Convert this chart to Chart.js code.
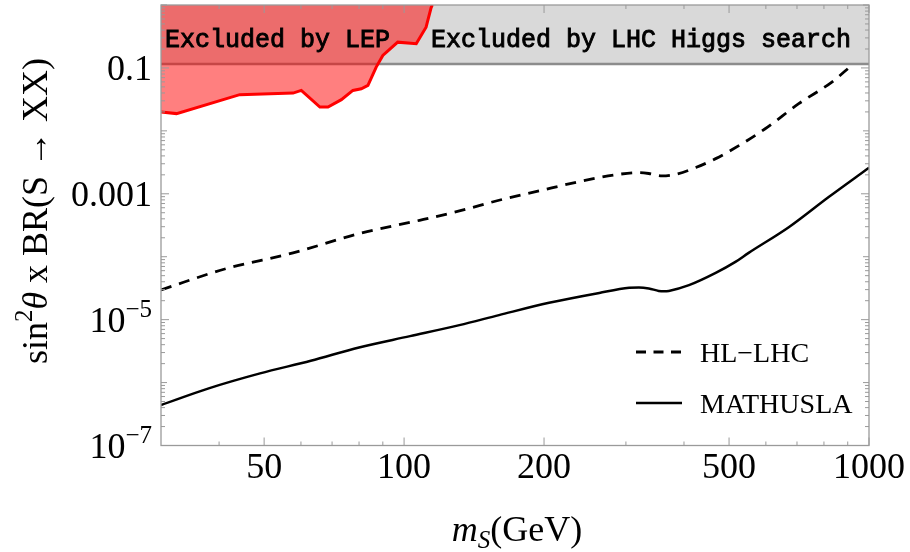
<!DOCTYPE html>
<html>
<head>
<meta charset="utf-8">
<script src="https://cdn.jsdelivr.net/npm/chart.js@4.4.1/dist/chart.umd.min.js"></script>
<style>
  html, body { margin: 0; padding: 0; background: #fff; }
  #wrap { width: 910px; height: 552px; }
</style>
</head>
<body>
<div id="wrap"><canvas id="chart" width="910" height="552"></canvas></div>
<script>
// Values (log-log: m_S in GeV vs sin^2(theta) x BR).

// HL-LHC projection (dashed)
const massHL = [30, 41.5, 57.7, 80, 108, 131.5, 160, 195, 238, 290, 320, 336, 359, 384, 424, 468, 508, 598, 706, 832, 918];
const hlLhc = [2.97e-5, 6.5e-5, 1.15e-4, 2.33e-4, 3.79e-4, 5.33e-4, 7.89e-4, 1.11e-3, 1.56e-3, 2.04e-3, 2.17e-3, 2.10e-3, 1.92e-3, 2.04e-3, 2.61e-3, 3.62e-3, 5.04e-3, 1.08e-2, 2.7e-2, 5.96e-2, 0.11];

// MATHUSLA projection (solid)
const massMA = [30, 38, 49, 63, 80, 103, 131.5, 160, 205, 263, 305, 320, 336, 353, 362, 371, 410, 468, 516, 551, 672, 819, 1000];
const mathusla = [4.4e-7, 8.1e-7, 1.4e-6, 2.22e-6, 3.62e-6, 5.47e-6, 8.18e-6, 1.18e-5, 1.85e-5, 2.66e-5, 3.2e-5, 3.25e-5, 3.13e-5, 2.86e-5, 2.82e-5, 2.86e-5, 3.53e-5, 5.53e-5, 8.27e-5, 1.15e-4, 2.94e-4, 8.89e-4, 2.6e-3];

// LEP exclusion boundary (region above is excluded)
const massLEP = [30, 32.4, 44.3, 57.7, 60.1, 65.9, 68.6, 73.3, 77.6, 80.9, 83.6, 87.1, 90, 96.9, 106.2, 111.5, 114.3, 115];
const lepLimit = [0.0199, 0.0188, 0.0376, 0.0398, 0.0439, 0.0239, 0.0239, 0.0313, 0.0439, 0.0467, 0.0527, 0.103, 0.158, 0.257, 0.242, 0.444, 0.903, 1];

// LHC Higgs search exclusion band
const massLHC = [30, 1000];
const lhcLimit = [0.115, 0.115];

// axes
const xTickValues = [50, 100, 200, 500, 1000];
const xMinorTicks = [40, 60, 70, 80, 90, 300, 400, 600, 700, 800, 900];
const yTickValues = [1e-7, 1e-5, 1e-3, 0.1];
const yTickLabels = [['10', '\u22127'], ['10', '\u22125'], ['0.001'], ['0.1']];

const seriesNames = ['HL\u2212LHC', 'MATHUSLA'];

const SERIF = '"Liberation Serif", "Times New Roman", serif';
const MONO = '"Liberation Mono", "Courier New", monospace';
const FRAME = '#9a9a9a';

function toPoints(xs, ys) {
    return xs.map(function(x, i) { return { x: x, y: ys[i] }; });
}

// draws runs of text with different fonts / baseline shifts in sequence
function drawRuns(ctx, runs, x, y, align) {
    let total = 0;
    runs.forEach(function(r) { ctx.font = r.font; r.w = ctx.measureText(r.text).width; total += r.w; });
    let cx = align === 'center' ? x - total / 2 : (align === 'right' ? x - total : x);
    ctx.textAlign = 'left';
    ctx.textBaseline = 'alphabetic';
    runs.forEach(function(r) {
        ctx.font = r.font;
        ctx.fillText(r.text, cx, y + (r.dy || 0));
        cx += r.w;
    });
}

const decorPlugin = {
    id: 'decor',
    afterDatasetsDraw(chart) {
        const ctx = chart.ctx;
        const a = chart.chartArea;
        const xs = chart.scales.x;
        const ys = chart.scales.y;
        ctx.save();
        ctx.fillStyle = '#000';

        // band captions (regular mono, slightly thickened)
        ctx.font = '25px ' + MONO;
        ctx.textAlign = 'left';
        ctx.textBaseline = 'alphabetic';
        ctx.strokeStyle = '#000';
        ctx.lineWidth = 0.9;
        [['Excluded by LEP', a.left + 4], ['Excluded by LHC Higgs search', 431]].forEach(function(t) {
            ctx.fillText(t[0], t[1], 47);
            ctx.strokeText(t[0], t[1], 47);
        });

        // frame
        ctx.strokeStyle = FRAME;
        ctx.lineWidth = 1.3;
        ctx.strokeRect(a.left, a.top, a.right - a.left, a.bottom - a.top);

        // inward ticks on all four sides
        function xTick(v, len) {
            const px = xs.getPixelForValue(v);
            ctx.beginPath();
            ctx.moveTo(px, a.bottom); ctx.lineTo(px, a.bottom - len);
            ctx.moveTo(px, a.top); ctx.lineTo(px, a.top + len);
            ctx.stroke();
        }
        function yTick(v, len) {
            const py = ys.getPixelForValue(v);
            ctx.beginPath();
            ctx.moveTo(a.left, py); ctx.lineTo(a.left + len, py);
            ctx.moveTo(a.right, py); ctx.lineTo(a.right - len, py);
            ctx.stroke();
        }
        ctx.lineWidth = 1;
        xTickValues.forEach(function(v) { xTick(v, 8); });
        xMinorTicks.forEach(function(v) { xTick(v, 4); });
        for (let e = -7; e <= 0; e++) {
            const d = Math.pow(10, e);
            const labelled = yTickValues.some(function(t) { return Math.abs(t - d) < d * 1e-6; });
            yTick(d, labelled ? 8 : 6);
            if (e < 0) {
                for (let k = 2; k <= 9; k++) yTick(k * d, 4);
            }
        }

        // y tick labels (with superscripts)
        ctx.fillStyle = '#000';
        yTickValues.forEach(function(v, i) {
            const py = ys.getPixelForValue(v);
            const lab = yTickLabels[i];
            const runs = [{ text: lab[0], font: '36px ' + SERIF }];
            if (lab.length > 1) runs.push({ text: lab[1], font: '25px ' + SERIF, dy: -15 });
            drawRuns(ctx, runs, 152, py + 12, 'right');
        });

        // x title: m_S(GeV)
        drawRuns(ctx, [
            { text: 'm', font: 'italic 36px ' + SERIF },
            { text: 'S', font: 'italic 25px ' + SERIF, dy: 7 },
            { text: '(GeV)', font: '36px ' + SERIF }
        ], 517, 541, 'center');

        // y title: sin^2(theta) x BR(S -> XX)
        ctx.save();
        ctx.translate(47, 211);
        ctx.rotate(-Math.PI / 2);
        drawRuns(ctx, [
            { text: 'sin', font: '36px ' + SERIF },
            { text: '2', font: '25px ' + SERIF, dy: -15 },
            { text: '\u03b8', font: 'italic 36px ' + SERIF },
            { text: ' x BR(S \u2192 XX)', font: '36px ' + SERIF }
        ], 0, 0, 'center');
        ctx.restore();

        // legend
        const legendY = [352, 403];
        ctx.strokeStyle = '#000';
        legendY.forEach(function(ly, i) {
            ctx.beginPath();
            ctx.lineWidth = i === 0 ? 2.8 : 2.5;
            ctx.setLineDash(i === 0 ? [10, 7.5] : []);
            ctx.moveTo(636, ly); ctx.lineTo(682, ly);
            ctx.stroke();
            ctx.setLineDash([]);
            ctx.font = '28px ' + SERIF;
            ctx.textAlign = 'left';
            ctx.textBaseline = 'alphabetic';
            ctx.fillText(seriesNames[i], 700, ly + 10);
        });

        ctx.restore();
    }
};

new Chart(document.getElementById('chart'), {
    type: 'line',
    data: {
        datasets: [
            {
                label: seriesNames[0],
                data: toPoints(massHL, hlLhc),
                borderColor: '#000',
                borderWidth: 2.8,
                borderDash: [11, 8],
                pointRadius: 0,
                fill: false,
                cubicInterpolationMode: 'monotone',
                order: 0
            },
            {
                label: seriesNames[1],
                data: toPoints(massMA, mathusla),
                borderColor: '#000',
                borderWidth: 2.5,
                pointRadius: 0,
                fill: false,
                cubicInterpolationMode: 'monotone',
                order: 0
            },
            {
                label: 'LEP',
                data: toPoints(massLEP, lepLimit),
                borderColor: '#ff0000',
                borderWidth: 3,
                backgroundColor: 'rgba(255, 0, 0, 0.5)',
                fill: 'end',
                tension: 0,
                pointRadius: 0,
                order: 1
            },
            {
                label: 'LHC',
                data: toPoints(massLHC, lhcLimit),
                borderColor: '#8c8c8c',
                borderWidth: 2.5,
                backgroundColor: '#d9d9d9',
                fill: 'end',
                pointRadius: 0,
                order: 2
            }
        ]
    },
    options: {
        responsive: false,
        animation: false,
        devicePixelRatio: 1,
        layout: { padding: { top: 5, right: 41, left: 0, bottom: 0 } },
        plugins: {
            legend: { display: false },
            tooltip: { enabled: false }
        },
        scales: {
            x: {
                type: 'logarithmic',
                min: 30,
                max: 1000,
                grid: { display: false, drawTicks: false },
                border: { display: false },
                afterBuildTicks: function(s) { s.ticks = xTickValues.map(function(v) { return { value: v }; }); },
                afterFit: function(s) { s.height = 106.5; },
                ticks: {
                    autoSkip: false,
                    maxRotation: 0,
                    padding: 1,
                    color: '#000',
                    font: { family: SERIF, size: 36 },
                    callback: function(v) { return String(v); }
                }
            },
            y: {
                type: 'logarithmic',
                min: 1e-7,
                max: 1,
                grid: { display: false, drawTicks: false },
                border: { display: false },
                afterBuildTicks: function(s) { s.ticks = yTickValues.map(function(v) { return { value: v }; }); },
                afterFit: function(s) { s.width = 161; },
                ticks: { display: false }
            }
        }
    },
    plugins: [decorPlugin]
});
</script>
</body>
</html>
